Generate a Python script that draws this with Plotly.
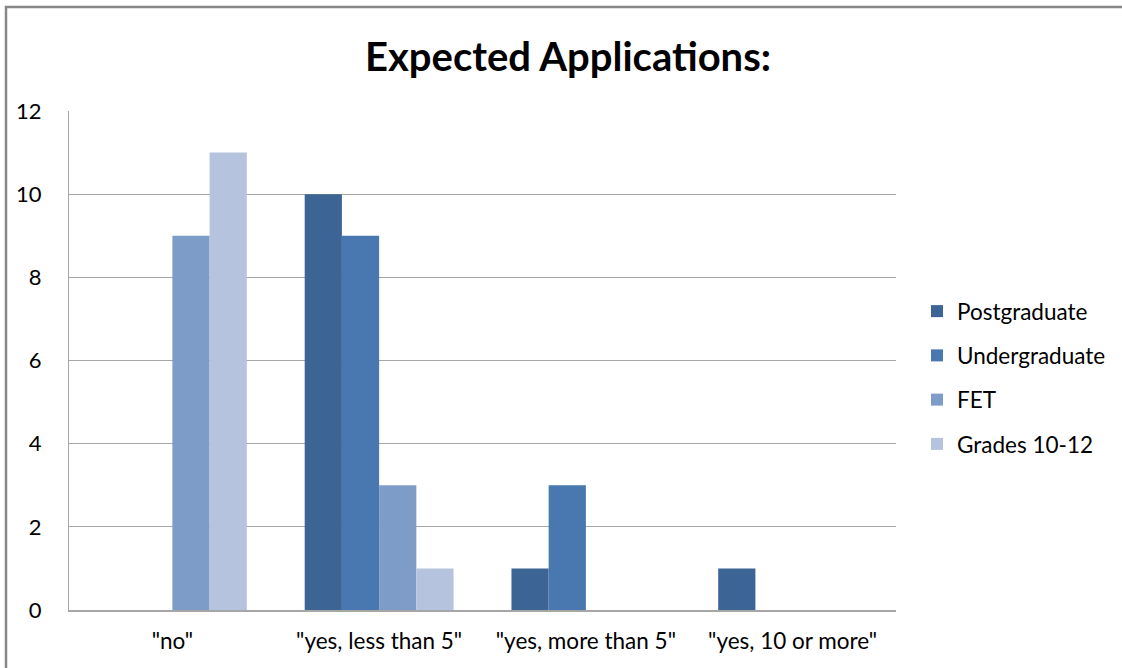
import plotly.graph_objects as go

categories = ['"no"', '"yes, less than 5"', '"yes, more than 5"', '"yes, 10 or more"']
postgraduate = [0, 10, 1, 1]
undergraduate = [0, 9, 3, 0]
fet = [9, 3, 0, 0]
grades_10_12 = [11, 1, 0, 0]

series = [
    ("Postgraduate", postgraduate, "#3C6595"),
    ("Undergraduate", undergraduate, "#4977B0"),
    ("FET", fet, "#7E9CC8"),
    ("Grades 10-12", grades_10_12, "#B6C3DE"),
]

FONT = "Lato"
fig = go.Figure()
for i, (name, vals, col) in enumerate(series):
    fig.add_trace(go.Bar(name=name, x=categories, y=vals, marker_color=col,
                         marker_line_width=0, legendgroup=f"g{i}"))

L, R, T, B = 69, 226, 111, 58
W, H = 1122, 668
pw, ph = W - L - R, H - T - B

fig.update_layout(
    width=W, height=H,
    margin=dict(l=L, r=R, t=T, b=B, autoexpand=False),
    paper_bgcolor="white", plot_bgcolor="white",
    barmode="group", bargap=0.28, bargroupgap=0,
    font=dict(family=FONT, color="#000000", size=22),
    title=dict(text="<b>Expected Applications:</b>", x=(568) / W, xanchor="center",
               y=1 - 57 / H, yanchor="middle", font=dict(family=FONT, size=40, color="#000")),
    legend=dict(x=(917 - L) / pw, xanchor="left", y=(610 - 290) / ph, yanchor="top",
                font=dict(family=FONT, size=22.5), traceorder="grouped", tracegroupgap=12,
                itemwidth=30, bgcolor="rgba(0,0,0,0)"),
    xaxis=dict(showgrid=False, showline=True, linecolor="#A6A6A6", linewidth=2,
               ticks="", ticklabelstandoff=10, tickfont=dict(size=22.5), automargin=False),
    yaxis=dict(range=[0, 12], dtick=2, showgrid=True, gridcolor="#A6A6A6", gridwidth=1,
               showline=True, linecolor="#A6A6A6", linewidth=1, zeroline=False,
               ticks="", ticklabelstandoff=22, tickfont=dict(size=22), automargin=False),
    shapes=[dict(type="rect", xref="paper", yref="paper",
                 x0=(6 - L) / pw, x1=(1135 - L) / pw,
                 y0=(H - B - 690) / ph, y1=(H - B - 7) / ph,
                 line=dict(color="#878787", width=2.5), layer="below")],
)

fig.write_html("out.html")
